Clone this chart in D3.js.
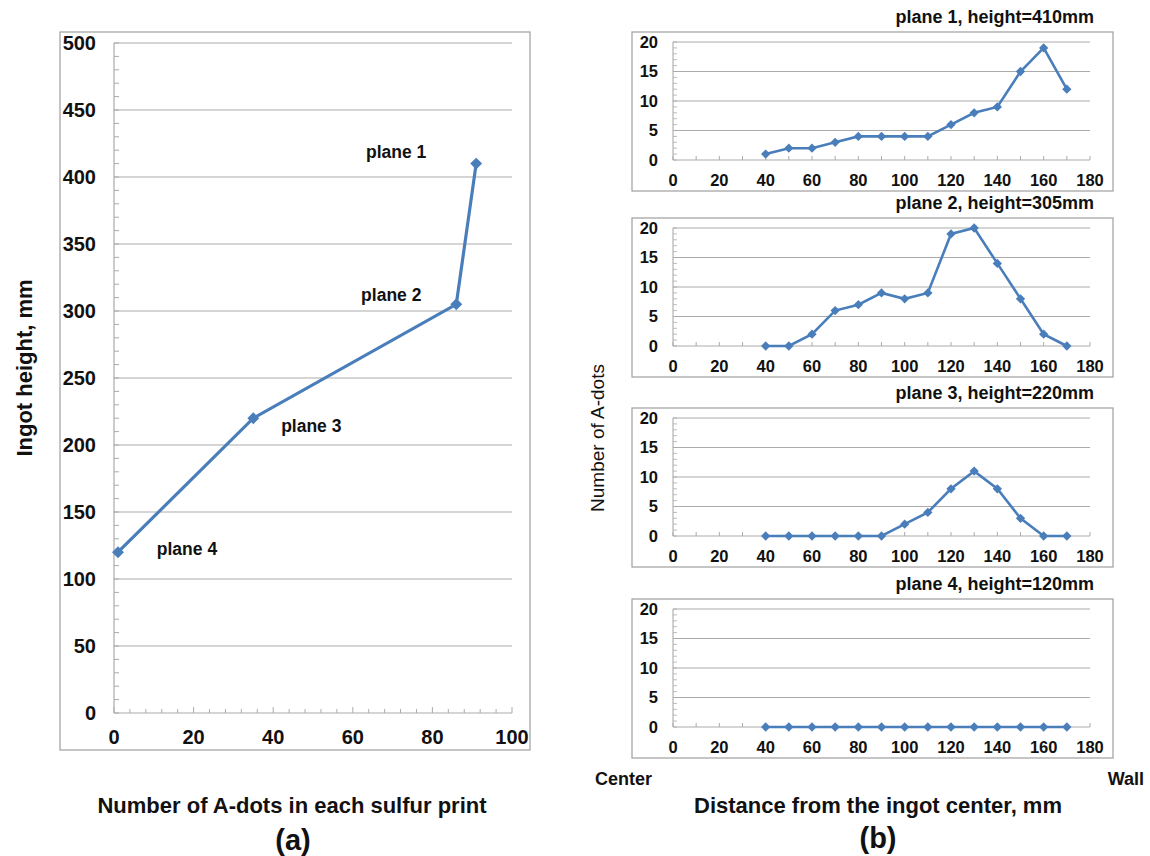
<!DOCTYPE html>
<html lang="en">
<head>
  <meta charset="UTF-8">
  <title>A-dots vs ingot height</title>
  <script src="https://d3js.org/d3.v7.min.js"></script>
  <style>
    body {
      margin: 0;
      background: #fff;
      font-family: "Liberation Sans", Arial, sans-serif;
    }
    svg text { fill: #111; }
  </style>
</head>
<body>
  <svg id="chart" width="1150" height="856"></svg>

  <script>
    // (a) total A-dots per plane vs ingot height
    const planeNames = ["plane 1", "plane 2", "plane 3", "plane 4"];
    const aDotsTotal = [91, 86, 35, 1];
    const ingotHeights = [410, 305, 220, 120];
    const heightTicks = [0, 50, 100, 150, 200, 250, 300, 350, 400, 450, 500];
    const countTicks = [0, 20, 40, 60, 80, 100];

    // (b) A-dots across the radius, one series per plane
    const distances = [40, 50, 60, 70, 80, 90, 100, 110, 120, 130, 140, 150, 160, 170];
    const plane1 = [1, 2, 2, 3, 4, 4, 4, 4, 6, 8, 9, 15, 19, 12];
    const plane2 = [0, 0, 2, 6, 7, 9, 8, 9, 19, 20, 14, 8, 2, 0];
    const plane3 = [0, 0, 0, 0, 0, 0, 2, 4, 8, 11, 8, 3, 0, 0];
    const plane4 = [0, 0, 0, 0, 0, 0, 0, 0, 0, 0, 0, 0, 0, 0];
    const panelTitles = ["plane 1, height=410mm", "plane 2, height=305mm",
                         "plane 3, height=220mm", "plane 4, height=120mm"];
    const distTicks = [0, 20, 40, 60, 80, 100, 120, 140, 160, 180];
    const dotTicks = [0, 5, 10, 15, 20];

    const blue = "#4a7ebb";
    const grid = "#ababab";
    const frame = "#a6a6a6";

    const svg = d3.select("#chart");
    const diamond = d3.symbol().type(d3.symbolDiamond2);

    // ---------- panel (a) ----------
    svg.append("rect")
      .attr("x", 60).attr("y", 32).attr("width", 470).attr("height", 718)
      .attr("fill", "none").attr("stroke", frame).attr("stroke-width", 1.3);

    const xa = d3.scaleLinear().domain([0, 100]).range([114, 512]);
    const ya = d3.scaleLinear().domain([0, 500]).range([713, 43]);
    const ga = svg.append("g");

    ga.selectAll(".grid")
      .data(heightTicks.slice(1))
      .join("line")
      .attr("x1", xa(0)).attr("x2", xa(100))
      .attr("y1", d => ya(d)).attr("y2", d => ya(d))
      .attr("stroke", grid).attr("stroke-width", 1.2);

    // minor ticks on y (inside)
    ga.selectAll(".ymin")
      .data(d3.range(0, 501, 10))
      .join("line")
      .attr("x1", xa(0)).attr("x2", xa(0) + 5)
      .attr("y1", d => ya(d)).attr("y2", d => ya(d))
      .attr("stroke", grid).attr("stroke-width", 1);

    // ticks on x (inside, pointing up)
    ga.selectAll(".xmin")
      .data(d3.range(0, 101, 4))
      .join("line")
      .attr("x1", d => xa(d)).attr("x2", d => xa(d))
      .attr("y1", ya(0)).attr("y2", d => ya(0) - (d % 20 === 0 ? 6 : 4))
      .attr("stroke", grid).attr("stroke-width", 1);

    ga.append("line")
      .attr("x1", xa(0)).attr("x2", xa(0)).attr("y1", ya(0)).attr("y2", ya(500))
      .attr("stroke", grid).attr("stroke-width", 1.2);
    ga.append("line")
      .attr("x1", xa(0)).attr("x2", xa(100)).attr("y1", ya(0)).attr("y2", ya(0))
      .attr("stroke", grid).attr("stroke-width", 1.2);

    ga.selectAll(".ylab")
      .data(heightTicks)
      .join("text")
      .attr("x", 96).attr("y", d => ya(d))
      .attr("dy", "0.36em")
      .attr("text-anchor", "end")
      .style("font-size", "20px").style("font-weight", "bold")
      .text(d => d);

    ga.selectAll(".xlab")
      .data(countTicks)
      .join("text")
      .attr("x", d => xa(d)).attr("y", 737)
      .attr("dy", "0.36em")
      .attr("text-anchor", "middle")
      .style("font-size", "20px").style("font-weight", "bold")
      .text(d => d);

    const ptsA = aDotsTotal.map((v, i) => [v, ingotHeights[i]]);
    ga.append("path")
      .datum(ptsA)
      .attr("d", d3.line().x(d => xa(d[0])).y(d => ya(d[1])))
      .attr("fill", "none").attr("stroke", blue).attr("stroke-width", 3.2);

    ga.selectAll(".mk")
      .data(ptsA)
      .join("path")
      .attr("d", diamond.size(90))
      .attr("transform", d => `translate(${xa(d[0])},${ya(d[1])})`)
      .attr("fill", blue);

    // plane labels, pixel offset from each point
    const labelOffsets = [[-80, -12], [-65, -10], [58, 7], [69, -4]];
    ga.selectAll(".plab")
      .data(ptsA)
      .join("text")
      .attr("x", (d, i) => xa(d[0]) + labelOffsets[i][0])
      .attr("y", (d, i) => ya(d[1]) + labelOffsets[i][1])
      .attr("dy", "0.36em")
      .attr("text-anchor", "middle")
      .style("font-size", "17.5px").style("font-weight", "bold")
      .text((d, i) => planeNames[i]);

    svg.append("text")
      .attr("transform", "translate(24,368) rotate(-90)")
      .attr("dy", "0.36em")
      .attr("text-anchor", "middle")
      .style("font-size", "22px").style("font-weight", "bold")
      .text("Ingot height, mm");

    svg.append("text")
      .attr("x", 292).attr("y", 805).attr("dy", "0.36em")
      .attr("text-anchor", "middle")
      .style("font-size", "22px").style("font-weight", "bold")
      .text("Number of A-dots in each sulfur print");

    svg.append("text")
      .attr("x", 293).attr("y", 840).attr("dy", "0.36em")
      .attr("text-anchor", "middle")
      .style("font-size", "29px").style("font-weight", "bold")
      .text("(a)");

    // ---------- panel (b) ----------
    const series = [plane1, plane2, plane3, plane4];
    const frameTops = [32, 218, 408, 599];
    const xb = d3.scaleLinear().domain([0, 180]).range([673, 1090]);

    series.forEach((vals, k) => {
      const top = frameTops[k];
      const g = svg.append("g");
      g.append("rect")
        .attr("x", 632).attr("y", top).attr("width", 481).attr("height", 159)
        .attr("fill", "none").attr("stroke", frame).attr("stroke-width", 1.3);

      const yb = d3.scaleLinear().domain([0, 20]).range([top + 128, top + 10]);

      g.selectAll(".grid")
        .data(dotTicks.slice(1))
        .join("line")
        .attr("x1", xb(0)).attr("x2", xb(180))
        .attr("y1", d => yb(d)).attr("y2", d => yb(d))
        .attr("stroke", grid).attr("stroke-width", 1.1);

      g.selectAll(".ymin")
        .data(d3.range(0, 21, 1))
        .join("line")
        .attr("x1", xb(0)).attr("x2", xb(0) + 4)
        .attr("y1", d => yb(d)).attr("y2", d => yb(d))
        .attr("stroke", grid).attr("stroke-width", 0.8);

      g.selectAll(".xmin")
        .data(d3.range(0, 181, 10))
        .join("line")
        .attr("x1", d => xb(d)).attr("x2", d => xb(d))
        .attr("y1", yb(0)).attr("y2", yb(0) - 4)
        .attr("stroke", grid).attr("stroke-width", 1);

      g.append("line")
        .attr("x1", xb(0)).attr("x2", xb(0)).attr("y1", yb(0)).attr("y2", yb(20))
        .attr("stroke", grid).attr("stroke-width", 1.1);
      g.append("line")
        .attr("x1", xb(0)).attr("x2", xb(180)).attr("y1", yb(0)).attr("y2", yb(0))
        .attr("stroke", grid).attr("stroke-width", 1.1);

      g.selectAll(".ylab")
        .data(dotTicks)
        .join("text")
        .attr("x", 658).attr("y", d => yb(d))
        .attr("dy", "0.36em")
        .attr("text-anchor", "end")
        .style("font-size", "16.5px").style("font-weight", "bold")
        .text(d => d);

      g.selectAll(".xlab")
        .data(distTicks)
        .join("text")
        .attr("x", d => xb(d)).attr("y", top + 148)
        .attr("dy", "0.36em")
        .attr("text-anchor", "middle")
        .style("font-size", "16.5px").style("font-weight", "bold")
        .text(d => d);

      const pts = vals.map((v, i) => [distances[i], v]);
      g.append("path")
        .datum(pts)
        .attr("d", d3.line().x(d => xb(d[0])).y(d => yb(d[1])))
        .attr("fill", "none").attr("stroke", blue).attr("stroke-width", 2.6);

      g.selectAll(".mk")
        .data(pts)
        .join("path")
        .attr("d", diamond.size(55))
        .attr("transform", d => `translate(${xb(d[0])},${yb(d[1])})`)
        .attr("fill", blue);

      g.append("text")
        .attr("x", 1094).attr("y", top - 15).attr("dy", "0.36em")
        .attr("text-anchor", "end")
        .style("font-size", "18px").style("font-weight", "bold")
        .text(panelTitles[k]);
    });

    svg.append("text")
      .attr("transform", "translate(597,438) rotate(-90)")
      .attr("dy", "0.36em")
      .attr("text-anchor", "middle")
      .style("font-size", "19px")
      .text("Number of A-dots");

    svg.append("text")
      .attr("x", 595).attr("y", 779).attr("dy", "0.36em")
      .style("font-size", "18px").style("font-weight", "bold")
      .text("Center");

    svg.append("text")
      .attr("x", 1144).attr("y", 779).attr("dy", "0.36em")
      .attr("text-anchor", "end")
      .style("font-size", "18px").style("font-weight", "bold")
      .text("Wall");

    svg.append("text")
      .attr("x", 878).attr("y", 805).attr("dy", "0.36em")
      .attr("text-anchor", "middle")
      .style("font-size", "22px").style("font-weight", "bold")
      .text("Distance from the ingot center, mm");

    svg.append("text")
      .attr("x", 878).attr("y", 838).attr("dy", "0.36em")
      .attr("text-anchor", "middle")
      .style("font-size", "29px").style("font-weight", "bold")
      .text("(b)");
  </script>
</body>
</html>
